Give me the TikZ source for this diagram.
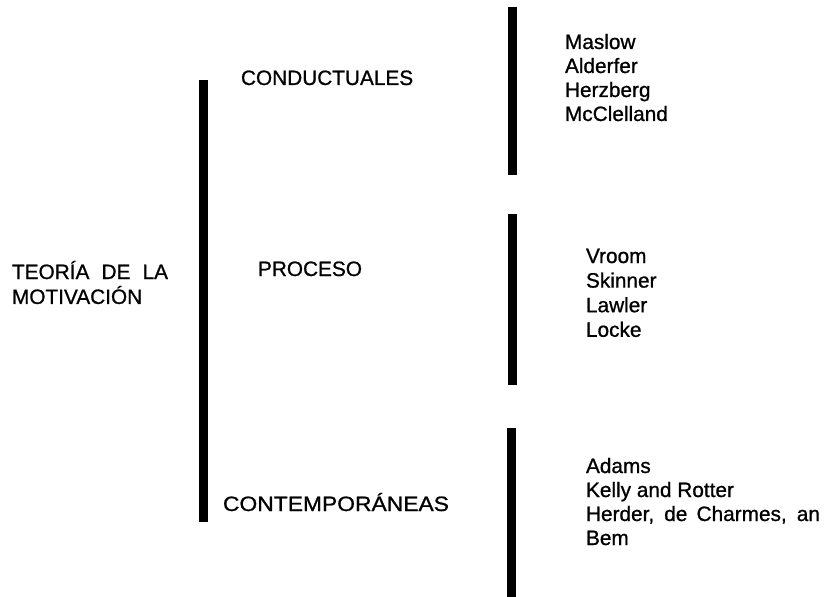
\documentclass[tikz,border=0pt]{standalone}
\usepackage{fontspec}
\setmainfont{Liberation Sans}[FakeBold=0.9]
\usepackage{graphicx}
\begin{document}
\begin{tikzpicture}[x=1bp,y=-1bp,
  bar/.style={line width=9bp, black},
  lbl/.style={anchor=base west, inner sep=0pt, outer sep=0pt, font=\fontsize{20.8bp}{24bp}\selectfont},
  lbltwo/.style={lbl, font=\fontsize{20.8bp}{23bp}\selectfont},
  lblmid/.style={lbl, font=\fontsize{20.8bp}{24.6bp}\selectfont}]
\useasboundingbox (0,0) rectangle (829,597);
% bars
\draw[bar] (203.5,80) -- (203.5,522);
\draw[bar] (512,7) -- (512,175);
\draw[bar] (512,214) -- (512,385);
\draw[bar] (511.5,428) -- (511.5,597);
% root label
\node[lbltwo] (root) at (12,279) {\begin{tabular}[t]{@{}l@{}}\makebox[156bp][s]{TEORÍA DE LA}\\MOTIVACIÓN\end{tabular}};
% categories
\node[lbl] (cond) at (241,85) {CONDUCTUALES};
\node[lbl] (proc) at (258,276) {PROCESO};
\node[lbl] (cont) at (223,511) {\resizebox{226bp}{\height}{CONTEMPORÁNEAS}};
% lists
\node[lbl] (l1) at (565,49) {\begin{tabular}[t]{@{}l@{}}Maslow\\Alderfer\\Herzberg\\McClelland\end{tabular}};
\node[lblmid] (l2) at (586,263) {\begin{tabular}[t]{@{}l@{}}Vroom\\Skinner\\Lawler\\Locke\end{tabular}};
\node[lbl] (l3) at (586,473) {\begin{tabular}[t]{@{}l@{}}Adams\\Kelly and Rotter\\\makebox[234bp][s]{Herder, de Charmes, an}\\Bem\end{tabular}};
\end{tikzpicture}
\end{document}
